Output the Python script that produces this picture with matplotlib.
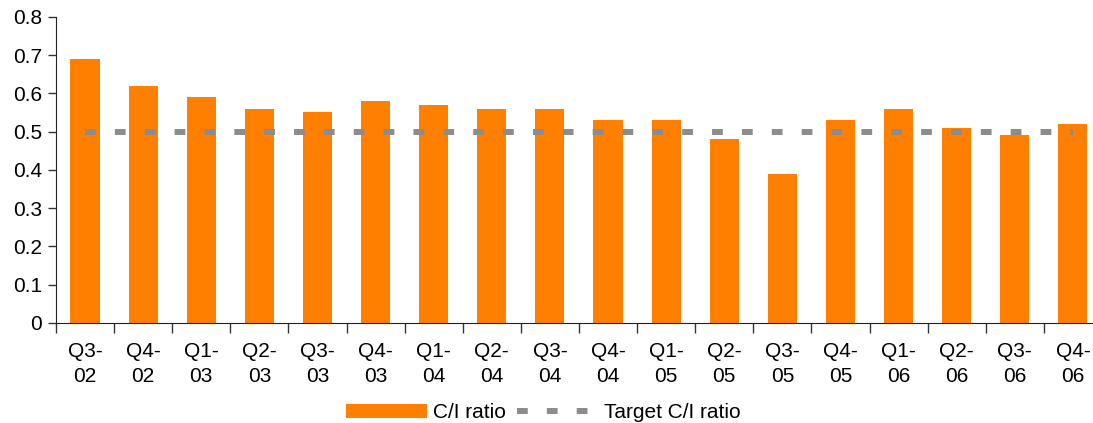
import numpy as np
import matplotlib
matplotlib.use("Agg")
from matplotlib import pyplot as plt

plt.rcParams['font.family'] = ['Liberation Sans', 'DejaVu Sans']

# Datos
quarters = ['Q3-\n02', 'Q4-\n02', 'Q1-\n03', 'Q2-\n03', 'Q3-\n03', 'Q4-\n03',
            'Q1-\n04', 'Q2-\n04', 'Q3-\n04', 'Q4-\n04', 'Q1-\n05', 'Q2-\n05',
            'Q3-\n05', 'Q4-\n05', 'Q1-\n06', 'Q2-\n06', 'Q3-\n06', 'Q4-\n06']
ci_ratio = [0.69, 0.62, 0.59, 0.56, 0.55, 0.58, 0.57, 0.56, 0.56, 0.53,
            0.53, 0.48, 0.39, 0.53, 0.56, 0.51, 0.49, 0.52]
target = [0.5] * len(quarters)

fig = plt.figure(figsize=(10.93, 4.23), dpi=100)
ax = fig.add_axes([0.0512, 0.237, 0.957, 0.723])

x = np.arange(len(quarters))
barras = ax.bar(x, ci_ratio, width=0.5, color='#FF8000', label='C/I ratio')
linea, = ax.plot(x, target, color='#8C8C8C', linewidth=4.3, dashes=(1.8, 3.2),
                 solid_capstyle='butt', dash_capstyle='butt', label='Target C/I ratio')

ax.set_xlim(-0.5, len(quarters) - 0.5)
ax.set_ylim(0, 0.8)
ax.set_yticks(np.arange(0, 0.81, 0.1))
ax.set_yticklabels(['0'] + ['%.1f' % v for v in np.arange(0.1, 0.81, 0.1)])

# Ticks del eje x en los bordes de las categorias, etiquetas centradas
ax.set_xticks(np.arange(-0.5, len(quarters), 1.0))
ax.set_xticklabels([])
ax.set_xticks(x, minor=True)
ax.set_xticklabels(quarters, minor=True, linespacing=1.4)
ax.tick_params(axis='x', which='minor', length=0, pad=14, labelsize=15)
ax.tick_params(axis='x', which='major', length=7, width=1, color='#333333')
ax.tick_params(axis='y', length=6, width=1, color='#333333', labelsize=15, pad=4)

for s in ['top', 'right']:
    ax.spines[s].set_visible(False)
ax.spines['left'].set_color('#222222')
ax.spines['bottom'].set_color('#222222')

fig.legend([barras, linea], ['C/I ratio', 'Target C/I ratio'],
           loc='center', bbox_to_anchor=(0.497, 0.024), ncol=2, frameon=False,
           fontsize=15, handlelength=3.9, handleheight=0.65, columnspacing=0.5,
           handletextpad=0.3, borderpad=0)

fig.savefig('out.png', dpi=100)
